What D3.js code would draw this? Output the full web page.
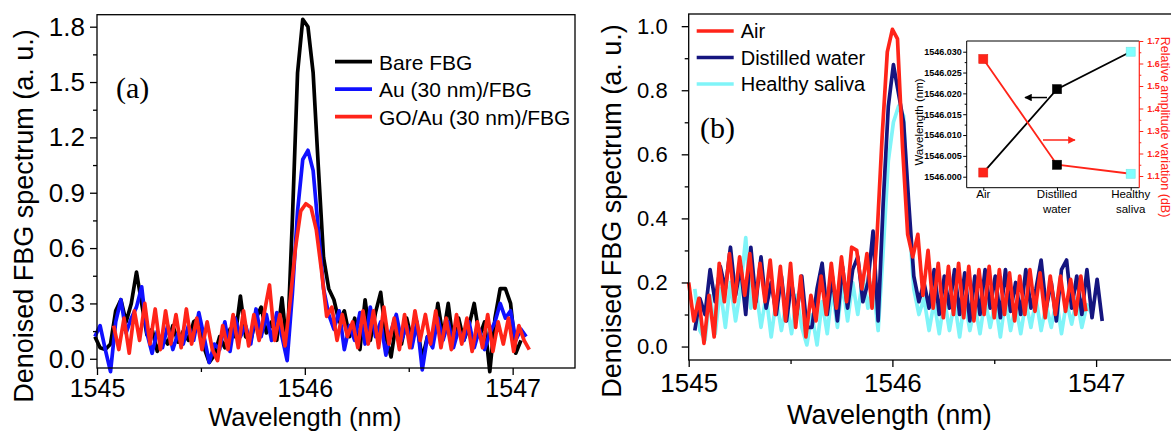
<!DOCTYPE html>
<meta charset="utf-8">
<script src="https://cdn.jsdelivr.net/npm/d3@7"></script>
<style>
  body { margin: 0; background: #fff; }
  text { font-family: "Liberation Sans", Arial, sans-serif; }
</style>
<svg id="chart" width="1171" height="433"></svg>
<script>

// ---- panel (a) data: denoised spectra, sampled every 0.025 nm ----
var stepA = 0.025;
var aLabels = ["Bare FBG", "Au (30 nm)/FBG", "GO/Au (30 nm)/FBG"];
var aStarts = [1544.99, 1544.99, 1545.08];
var aBare = [0.12,0.06,0.05,0.08,0.26,0.32,0.20,0.30,0.47,0.30,
  0.13,0.16,0.04,0.12,0.08,0.18,0.09,0.15,0.10,0.20,
  0.22,0.06,-0.02,0.02,0.12,0.06,0.16,0.12,0.34,0.12,
  0.10,0.22,0.28,0.14,0.20,0.10,0.33,0.05,0.75,1.55,
  1.84,1.80,1.55,1.04,0.55,0.38,0.32,0.20,0.26,0.12,
  0.22,0.05,0.32,0.10,0.25,0.36,0.12,0.01,0.20,0.08,
  0.22,0.10,0.18,0.00,0.12,0.08,0.30,0.12,0.30,0.08,
  0.22,0.10,0.18,0.30,0.12,0.20,-0.07,0.22,0.38,0.38,
  0.30,0.03,0.10];
var aAu = [0.12,0.18,0.05,-0.07,0.20,0.32,0.14,0.22,0.28,0.39,
  0.14,0.03,0.15,0.06,0.18,0.05,0.14,0.08,0.18,0.10,
  0.25,0.12,-0.02,0.08,0.05,0.20,0.04,0.22,0.12,0.18,
  0.08,0.27,0.12,0.24,0.10,0.25,0.12,-0.01,0.35,0.80,
  1.08,1.13,1.02,0.70,0.38,0.24,0.16,0.26,0.05,0.18,
  0.10,0.25,0.08,0.28,0.12,0.20,0.02,0.15,0.24,0.10,
  0.18,0.06,0.20,-0.06,0.12,0.06,0.22,0.10,0.20,0.06,
  0.16,0.10,0.20,0.06,0.16,0.05,0.14,0.20,0.30,0.22,
  0.26,0.10,0.16,0.12];
var aGOAu = [0.18,0.05,0.22,0.03,0.26,0.10,0.30,0.08,0.27,0.05,
  0.26,0.08,0.24,0.06,0.27,0.08,0.22,0.05,0.20,0.05,
  -0.01,0.18,0.05,0.24,0.06,0.26,0.07,0.24,0.10,0.25,
  0.40,0.10,0.24,0.07,0.32,0.60,0.80,0.84,0.82,0.70,
  0.48,0.23,0.28,0.10,0.24,0.12,0.20,0.06,0.26,0.08,
  0.26,0.06,0.28,0.08,0.22,0.05,0.24,0.06,0.26,0.10,
  0.24,0.08,0.26,0.06,0.22,0.05,0.24,0.08,0.22,0.04,
  0.20,0.06,0.24,0.04,0.20,0.08,0.22,0.04,0.18,0.10,
  0.05];
var aColors = ["#000000", "#1010ff", "#ff2419"];

// ---- panel (b) data ----
var stepB = 0.025;
var bLabels = ["Air", "Distilled water", "Healthy saliva"];
var bStarts = [1545.0, 1545.03, 1545.03];
var bAir = [0.20,0.08,0.15,0.01,0.16,0.03,0.26,0.14,0.29,0.14,
  0.28,0.16,0.29,0.12,0.26,0.14,0.27,0.10,0.25,0.08,
  0.26,0.06,0.22,0.03,0.16,0.08,0.22,0.10,0.26,0.12,
  0.28,0.14,0.31,0.30,0.18,0.29,0.12,0.35,0.66,0.92,
  0.99,0.96,0.62,0.35,0.28,0.35,0.16,0.30,0.12,0.26,
  0.09,0.25,0.10,0.26,0.09,0.25,0.08,0.24,0.10,0.25,
  0.09,0.24,0.10,0.23,0.08,0.22,0.10,0.24,0.11,0.23,
  0.09,0.22,0.10,0.22,0.11,0.21,0.10,0.22,0.11];
var bWater = [0.05,0.15,0.10,0.24,0.14,0.25,0.18,0.31,0.16,0.25,
  0.10,0.31,0.14,0.28,0.12,0.20,0.10,0.22,0.08,0.20,
  0.10,0.22,0.06,0.06,0.18,0.26,0.10,0.22,0.08,0.25,
  0.12,0.24,0.28,0.14,0.20,0.36,0.08,0.45,0.75,0.88,
  0.79,0.70,0.45,0.22,0.14,0.20,0.12,0.24,0.10,0.22,
  0.12,0.24,0.10,0.23,0.08,0.22,0.10,0.24,0.12,0.22,
  0.09,0.24,0.11,0.20,0.10,0.24,0.12,0.18,0.27,0.12,
  0.20,0.08,0.24,0.27,0.12,0.22,0.10,0.24,0.09,0.21,
  0.08];
var bSaliva = [0.18,0.05,0.02,0.16,0.04,0.18,0.06,0.20,0.08,0.18,
  0.34,0.12,0.18,0.06,0.16,0.03,0.15,0.05,0.14,0.04,
  0.16,0.06,0.005,0.10,0.005,0.14,0.04,0.18,0.06,0.20,
  0.08,0.20,0.10,0.22,0.12,0.20,0.05,0.30,0.58,0.70,
  0.75,0.72,0.40,0.18,0.10,0.15,0.05,0.14,0.04,0.15,
  0.05,0.14,0.03,0.15,0.05,0.13,0.04,0.15,0.06,0.14,
  0.03,0.15,0.05,0.13,0.04,0.14,0.06,0.15,0.05,0.13,
  0.06,0.15,0.04,0.14,0.07,0.15,0.06,0.13,0.10];
var bColors = ["#ff2419", "#15157f", "#80f4f8"];

// ---- inset data ----
var insetCats = [["Air"], ["Distilled", "water"], ["Healthy", "saliva"]];
var insetWavelength = [1546.001, 1546.021, 1546.030];
var insetAmplitude = [1.62, 1.15, 1.11];
var insetMarkerColors = ["#ff2419", "#000000", "#80ffff"];

var svg = d3.select("#chart");

function toPoints(start, step, vals) {
  return vals.map(function(v, i) { return [start + i * step, v]; });
}

function drawPanel(opt) {
  var g = svg.append("g");
  var x = opt.x, y = opt.y;
  var r = x.range(), ry = y.range();

  // lines (drawn in the order given, last on top)
  var line = d3.line().x(function(d){ return x(d[0]); }).y(function(d){ return y(d[1]); });
  opt.series.forEach(function(s) {
    g.append("path")
      .attr("d", line(toPoints(s.start, opt.step, s.values)))
      .attr("fill", "none")
      .attr("stroke", s.color)
      .attr("stroke-width", 3.7)
      .attr("stroke-linejoin", "round");
  });

  // frame
  g.append("rect")
    .attr("x", r[0]).attr("y", ry[1])
    .attr("width", r[1] - r[0]).attr("height", ry[0] - ry[1])
    .attr("fill", "none").attr("stroke", "#000").attr("stroke-width", 1.3);

  // axes
  var ax = g.append("g").attr("transform", "translate(0," + ry[0] + ")")
    .call(d3.axisBottom(x).tickValues(opt.xTicks).tickFormat(d3.format("d"))
      .tickSize(7).tickPadding(opt.xPad));
  ax.selectAll("text").style("font-size", opt.xFont + "px");
  g.append("g").attr("transform", "translate(0," + ry[0] + ")")
    .call(d3.axisBottom(x).tickValues(opt.xMinor).tickFormat("").tickSize(4));
  var ay = g.append("g").attr("transform", "translate(" + r[0] + ",0)")
    .call(d3.axisLeft(y).tickValues(opt.yTicks).tickFormat(d3.format(".1f"))
      .tickSize(7).tickPadding(opt.yPad));
  ay.selectAll("text").style("font-size", opt.yFont + "px");
  g.append("g").attr("transform", "translate(" + r[0] + ",0)")
    .call(d3.axisLeft(y).tickValues(opt.yMinor).tickFormat("").tickSize(4));
  g.selectAll(".domain").remove();
  g.selectAll(".tick line").attr("stroke-width", 1.3);
  g.selectAll(".tick text").attr("fill", "#000");

  // titles
  g.append("text")
    .attr("x", opt.xTitle[0]).attr("y", opt.xTitle[1])
    .attr("text-anchor", "middle").style("font-size", opt.xTitle[2] + "px")
    .text("Wavelength (nm)");
  g.append("text")
    .attr("transform", "translate(" + opt.yTitle[0] + "," + opt.yTitle[1] + ") rotate(-90)")
    .attr("text-anchor", "middle").style("font-size", "27px")
    .text("Denoised FBG spectrum (a. u.)");

  // panel letter
  g.append("text")
    .attr("x", opt.letter[0]).attr("y", opt.letter[1])
    .style("font-family", "'Liberation Serif', 'Times New Roman', serif")
    .style("font-size", "30px")
    .text(opt.letter[2]);

  // legend
  var lg = g.append("g");
  opt.legendOrder.forEach(function(s, i) {
    var ly = opt.legend.y + i * opt.legend.dy;
    lg.append("line")
      .attr("x1", opt.legend.x).attr("x2", opt.legend.x + 37)
      .attr("y1", ly).attr("y2", ly)
      .attr("stroke", s.color).attr("stroke-width", 3.7);
    lg.append("text")
      .attr("x", opt.legend.x + 44).attr("y", ly + opt.legend.base)
      .style("font-size", opt.legend.font + "px")
      .text(s.name);
  });
  return g;
}

// panel (a)
var xA = d3.scaleLinear().domain([1545, 1547.3]).range([97, 575]);
var yA = d3.scaleLinear().domain([-0.05, 1.865]).range([368, 14.7]);
var seriesA = [
  {name: aLabels[0], color: aColors[0], start: aStarts[0], values: aBare},
  {name: aLabels[1], color: aColors[1], start: aStarts[1], values: aAu},
  {name: aLabels[2], color: aColors[2], start: aStarts[2], values: aGOAu}
];
drawPanel({
  x: xA, y: yA, step: stepA,
  series: seriesA, legendOrder: seriesA,
  xTicks: [1545, 1546, 1547], xMinor: [1545.5, 1546.5],
  yTicks: [0, 0.3, 0.6, 0.9, 1.2, 1.5, 1.8], yMinor: [0.15, 0.45, 0.75, 1.05, 1.35, 1.65],
  xFont: 25, yFont: 26, xPad: 4, yPad: 5,
  xTitle: [xA(1546), 426, 25.5], yTitle: [33, 216],
  letter: [116, 98, "(a)"],
  legend: {x: 335, y: 61.7, dy: 27.5, base: 8, font: 21}
});

// panel (b)
var xB = d3.scaleLinear().domain([1545, 1547.4]).range([688.7, 688.7 + 2.4 * 203.7]);
var yB = d3.scaleLinear().domain([-0.042, 1.038]).range([360, 14]);
var seriesB = [
  {name: bLabels[0], color: bColors[0], start: bStarts[0], values: bAir},
  {name: bLabels[1], color: bColors[1], start: bStarts[1], values: bWater},
  {name: bLabels[2], color: bColors[2], start: bStarts[2], values: bSaliva}
];
drawPanel({
  x: xB, y: yB, step: stepB,
  series: seriesB.slice().reverse(), legendOrder: seriesB,
  xTicks: [1545, 1546, 1547], xMinor: [1545.5, 1546.5],
  yTicks: [0, 0.2, 0.4, 0.6, 0.8, 1.0], yMinor: [0.1, 0.3, 0.5, 0.7, 0.9],
  xFont: 26, yFont: 22, xPad: 6.5, yPad: 14,
  xTitle: [xB(1546) - 3, 424, 27], yTitle: [621, 211],
  letter: [700, 138, "(b)"],
  legend: {x: 696.7, y: 31, dy: 26.5, base: 7, font: 20}
});

// ---- inset ----
var ins = svg.append("g");
var xI = d3.scaleLinear().domain([-0.225, 2.117]).range([966.7, 1139.3]);
var yIL = d3.scaleLinear().domain([1545.99736, 1546.03257]).range([187.7, 41]);
var yIR = d3.scaleLinear().domain([1.048, 1.7]).range([187.7, 41]);
var insRed = "#ff2419";

var lineL = d3.line().x(function(d, i){ return xI(i); }).y(function(d){ return yIL(d); });
var lineR = d3.line().x(function(d, i){ return xI(i); }).y(function(d){ return yIR(d); });
ins.append("path").attr("d", lineL(insetWavelength))
  .attr("fill", "none").attr("stroke", "#000").attr("stroke-width", 1.8);
ins.append("path").attr("d", lineR(insetAmplitude))
  .attr("fill", "none").attr("stroke", insRed).attr("stroke-width", 1.8);

[insetWavelength.map(function(v){ return yIL(v); }),
 insetAmplitude.map(function(v){ return yIR(v); })].forEach(function(ys) {
  ys.forEach(function(py, i) {
    ins.append("rect")
      .attr("x", xI(i) - 4.5).attr("y", py - 4.5)
      .attr("width", 9).attr("height", 9)
      .attr("fill", insetMarkerColors[i])
      .attr("stroke", d3.color(insetMarkerColors[i]).darker(0.3)).attr("stroke-width", 0.6);
  });
});

// inset frame: black left/top/bottom, red right
var xr = xI.range(), yr = yIL.range();
ins.append("path")
  .attr("d", "M" + xr[1] + "," + yr[1] + "H" + xr[0] + "V" + yr[0] + "H" + xr[1])
  .attr("fill", "none").attr("stroke", "#000").attr("stroke-width", 1);
ins.append("line")
  .attr("x1", xr[1]).attr("x2", xr[1]).attr("y1", yr[1]).attr("y2", yr[0])
  .attr("stroke", insRed).attr("stroke-width", 1.2);

var iyl = ins.append("g").attr("transform", "translate(" + xr[0] + ",0)")
  .call(d3.axisLeft(yIL).tickValues([1546.000, 1546.005, 1546.010, 1546.015, 1546.020, 1546.025, 1546.030])
    .tickFormat(d3.format(".3f")).tickSize(3.5).tickPadding(1.5));
ins.append("g").attr("transform", "translate(" + xr[0] + ",0)")
  .call(d3.axisLeft(yIL).tickValues([1546.0025, 1546.0075, 1546.0125, 1546.0175, 1546.0225, 1546.0275])
    .tickFormat("").tickSize(2));
iyl.selectAll("text").style("font-size", "9px").style("font-weight", "bold").attr("fill", "#000");

var iyr = ins.append("g").attr("transform", "translate(" + xr[1] + ",0)")
  .call(d3.axisRight(yIR).tickValues([1.1, 1.2, 1.3, 1.4, 1.5, 1.6, 1.7])
    .tickFormat(d3.format(".1f")).tickSize(4).tickPadding(4));
ins.append("g").attr("transform", "translate(" + xr[1] + ",0)").attr("class", "minorR")
  .call(d3.axisRight(yIR).tickValues([1.15, 1.25, 1.35, 1.45, 1.55, 1.65])
    .tickFormat("").tickSize(2));
iyr.selectAll("text").style("font-size", "9px").style("font-weight", "bold").attr("fill", insRed);
iyr.selectAll("line").attr("stroke", insRed);
ins.selectAll(".minorR line").attr("stroke", insRed);

ins.append("g").attr("transform", "translate(0," + yr[0] + ")")
  .call(d3.axisBottom(xI).tickValues([0, 1, 2]).tickFormat("").tickSize(3));
ins.selectAll(".domain").remove();

// category labels
insetCats.forEach(function(lines, i) {
  lines.forEach(function(t, k) {
    ins.append("text")
      .attr("x", xI(i)).attr("y", 198 + k * 15)
      .attr("text-anchor", "middle").style("font-size", "11.5px")
      .text(t);
  });
});

ins.append("text")
  .attr("transform", "translate(922.7,122) rotate(-90)")
  .attr("text-anchor", "middle").style("font-size", "11.5px")
  .text("Wavelength (nm)");
ins.append("text")
  .attr("transform", "translate(1161,127) rotate(90)")
  .attr("text-anchor", "middle").style("font-size", "12.5px").attr("fill", insRed)
  .text("Relative amplitude variation (dB)");

// arrows
var defs = svg.append("defs");
[["arrK", "#000"], ["arrR", insRed]].forEach(function(a) {
  defs.append("marker").attr("id", a[0])
    .attr("viewBox", "0 0 10 10").attr("refX", 9).attr("refY", 5)
    .attr("markerWidth", 5).attr("markerHeight", 5).attr("orient", "auto")
    .append("path").attr("d", "M0,0L10,5L0,10z").attr("fill", a[1]);
});
ins.append("line")
  .attr("x1", xI(0.865)).attr("x2", xI(0.566))
  .attr("y1", yIL(1546.019)).attr("y2", yIL(1546.019))
  .attr("stroke", "#000").attr("stroke-width", 1.5).attr("marker-end", "url(#arrK)");
ins.append("line")
  .attr("x1", xI(0.81)).attr("x2", xI(1.244))
  .attr("y1", yIR(1.26)).attr("y2", yIR(1.26))
  .attr("stroke", insRed).attr("stroke-width", 1.5).attr("marker-end", "url(#arrR)");

</script>
